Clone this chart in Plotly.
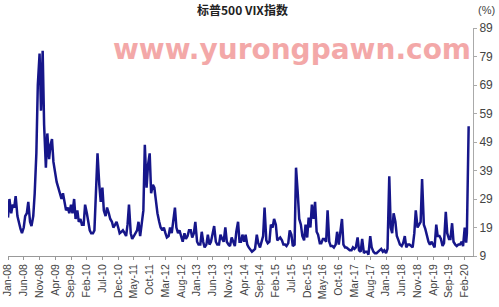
import pandas as pd
import plotly.graph_objects as go

# Semi-monthly VIX readings (1st and 15th of each month)
vix_2008 = [22.5, 29, 24, 27, 26, 30, 23, 20.5, 18.5, 17, 19, 23, 24, 28, 21, 19.5, 23, 31, 45, 69, 80, 60, 81, 55]
vix_2009 = [40, 52, 43, 48, 50, 42, 38, 35, 33, 31, 29, 31, 27, 25, 26, 24, 27, 24, 29, 22, 25, 21, 22, 20]
vix_2010 = [20, 27, 24, 21, 18, 17, 17, 18, 31, 45, 34, 28, 33, 25, 23, 26, 24, 22, 21, 19, 20, 21, 19, 17]
vix_2011 = [17.5, 18, 17, 16, 20, 27, 17, 15, 16, 17, 18, 21, 16, 20, 25, 48, 33, 41, 45, 31, 34, 33, 28, 24]
vix_2012 = [21, 19, 18, 19, 17, 15.5, 16, 19, 17, 22, 26, 19, 17, 18, 16, 14, 17, 15, 16, 18, 18, 15.5, 17, 21]
vix_2013 = [14, 13, 13, 17.5, 14, 12, 13, 16.5, 13, 14, 17, 19.5, 14, 13, 13, 16.5, 15, 14, 19, 14, 13, 12.5, 15.5, 14]
vix_2014 = [12.5, 17.5, 21, 14, 14, 16.5, 14, 16.5, 13, 12, 11, 10.5, 11, 11.5, 16.5, 13.5, 12, 14, 16, 26, 14.5, 13.5, 14, 20]
vix_2015 = [19, 22, 20, 14.5, 15, 15.5, 14.5, 13, 13, 12.5, 13.5, 18, 16.5, 12.5, 13, 40, 31, 22, 20, 16, 14.5, 20, 15.5, 22.5]
vix_2016 = [19, 27, 22, 28, 17.5, 16.5, 13.5, 13.5, 15, 15, 14, 25, 14, 12.5, 12.5, 12, 13, 17.5, 13, 16.5, 22, 13, 12, 12]
vix_2017 = [11.5, 11, 11, 12, 11.5, 12, 15.5, 11, 10.5, 15, 10, 10.5, 10.5, 9.5, 16, 12, 10.5, 10, 10, 10.5, 11, 11.5, 10.5, 11]
vix_2018 = [10, 11.5, 37, 19, 17, 24, 21, 16, 14.5, 13, 12.5, 13.5, 16, 12, 13, 13, 12.5, 12, 17, 25, 19, 20, 21, 36]
vix_2019 = [20, 18.5, 15.5, 14, 13, 14, 13, 12, 20, 16, 16, 15, 12.5, 13.5, 24.5, 17, 15, 15, 20.5, 14, 13, 12.5, 13, 13]
dates_2020 = ["2020-01-02", "2020-01-15", "2020-01-31", "2020-02-14", "2020-02-21",
              "2020-02-24", "2020-02-27", "2020-03-02", "2020-03-06", "2020-03-09"]
vix_2020 = [14, 12.5, 19, 13.7, 17, 25, 39, 33, 42, 54.5]

tick_labels = ["Jan-08", "Jun-08", "Nov-08", "Apr-09", "Sep-09", "Feb-10", "Jul-10", "Dec-10",
               "May-11", "Oct-11", "Mar-12", "Aug-12", "Jan-13", "Jun-13", "Nov-13", "Apr-14",
               "Sep-14", "Feb-15", "Jul-15", "Dec-15", "May-16", "Oct-16", "Mar-17", "Aug-17",
               "Jan-18", "Jun-18", "Nov-18", "Apr-19", "Sep-19", "Feb-20"]
y_ticks = [9, 19, 29, 39, 49, 59, 69, 79, 89]

yearly = [vix_2008, vix_2009, vix_2010, vix_2011, vix_2012, vix_2013,
          vix_2014, vix_2015, vix_2016, vix_2017, vix_2018, vix_2019]
dates, values = [], []
for i, vals in enumerate(yearly):
    year = 2008 + i
    for k, v in enumerate(vals):
        month = k // 2 + 1
        day = 1 if k % 2 == 0 else 15
        dates.append(pd.Timestamp(year=year, month=month, day=day))
        values.append(v)
dates += [pd.Timestamp(d) for d in dates_2020]
values += vix_2020

tickvals = [pd.to_datetime(t, format="%b-%y") for t in tick_labels]

fig = go.Figure()
fig.add_trace(go.Scatter(x=dates, y=values, mode="lines",
                         line=dict(color="#16168a", width=2.5), showlegend=False))

fig.update_layout(
    width=499, height=307,
    margin=dict(l=8, r=26, t=28, b=51),
    paper_bgcolor="white", plot_bgcolor="white",
    font=dict(family="Liberation Sans, Arial", color="#444"),
    xaxis=dict(
        range=[pd.Timestamp("2008-01-01"), pd.Timestamp("2020-04-20")],
        tickvals=tickvals, ticktext=tick_labels, tickangle=-90,
        tickfont=dict(size=10.5, color="#444"),
        showgrid=False, zeroline=False,
        showline=True, linecolor="#999", linewidth=1,
        ticks="outside", ticklen=3, tickcolor="#999",
        automargin=False,
    ),
    yaxis=dict(
        side="right", range=[9, 89], tickvals=y_ticks,
        tickfont=dict(size=12, color="#444"),
        showgrid=False, zeroline=False,
        showline=True, linecolor="#aaa", linewidth=1,
        ticks="outside", ticklen=3, tickcolor="#aaa",
        automargin=False,
    ),
    annotations=[
        dict(text="<b>标普500 VIX指数</b>", xref="paper", yref="paper",
             x=0.505, y=1.079, xanchor="center", yanchor="middle", showarrow=False,
             font=dict(family="Noto Sans CJK SC", size=12, color="#222")),
        dict(text="(%)", xref="paper", yref="paper",
             x=1.028, y=1.079, xanchor="center", yanchor="middle", showarrow=False,
             font=dict(family="Liberation Sans, Arial", size=11, color="#444")),
        dict(text="<b>www.yurongpawn.com</b>", xref="paper", yref="paper",
             x=0.61, y=0.905, xanchor="center", yanchor="middle", showarrow=False,
             opacity=0.85,
             font=dict(family="DejaVu Sans", size=28, color="#f29a9a")),
    ],
)

fig.write_html("out.html")
